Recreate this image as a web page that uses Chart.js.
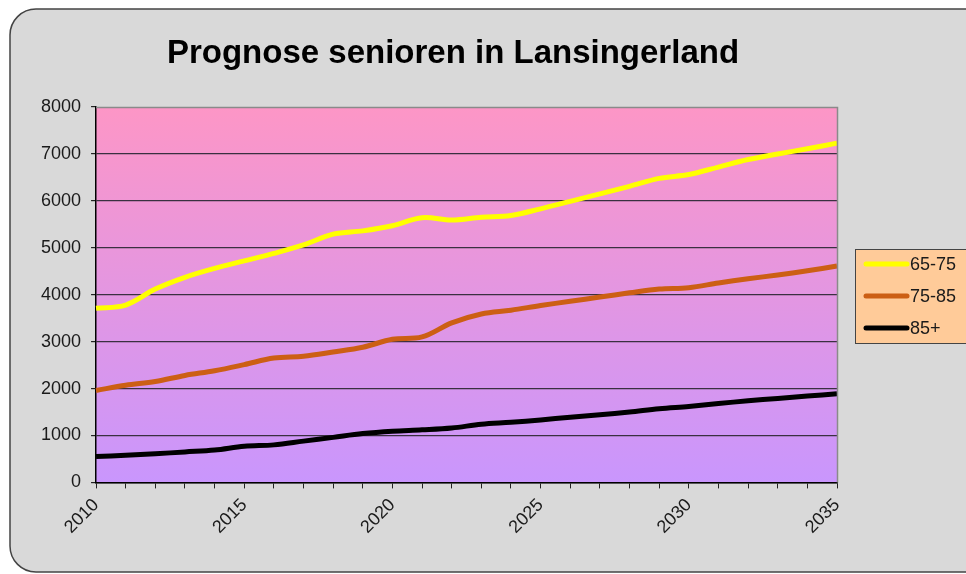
<!DOCTYPE html>
<html>
<head>
<meta charset="utf-8">
<script src="https://cdn.jsdelivr.net/npm/chart.js@4/dist/chart.umd.min.js"></script>
<style>
  html, body { margin: 0; padding: 0; background: #fff; }
  #wrap { width: 966px; height: 574px; }
</style>
</head>
<body>
<div id="wrap"><canvas id="myChart" width="966" height="574"></canvas></div>
<script>
const years = [2010, 2011, 2012, 2013, 2014, 2015, 2016, 2017, 2018, 2019, 2020, 2021, 2022,
  2023, 2024, 2025, 2026, 2027, 2028, 2029, 2030, 2031, 2032, 2033, 2034, 2035];

const age65to75 = [3710, 3780, 4120, 4370, 4560, 4720, 4880, 5060, 5290, 5360, 5470, 5640, 5590,
  5650, 5690, 5830, 5990, 6150, 6310, 6480, 6560, 6720, 6880, 7000, 7110, 7230];
const age75to85 = [1960, 2070, 2150, 2280, 2380, 2510, 2650, 2690, 2780, 2880, 3050, 3100, 3400,
  3590, 3670, 3770, 3860, 3950, 4040, 4120, 4150, 4250, 4340, 4420, 4510, 4610];
const age85plus = [550, 580, 610, 650, 690, 770, 800, 880, 960, 1040, 1090, 1120, 1160,
  1240, 1280, 1330, 1390, 1440, 1500, 1570, 1620, 1680, 1740, 1790, 1840, 1890];

const seriesNames = ['65-75', '75-85', '85+'];
const seriesColors = ['#ffff00', '#cc5f14', '#000000'];
const yTicks = [0, 1000, 2000, 3000, 4000, 5000, 6000, 7000, 8000];
const titleText = 'Prognose senioren in Lansingerland';

const FONT = "'Liberation Sans', Arial, sans-serif";

// frame, title + gradient plot background
const backdrop = {
  id: 'backdrop',
  beforeDraw(chart) {
    const c = chart.ctx;
    const a = chart.chartArea;
    c.save();
    c.beginPath();
    c.roundRect(10, 9, 980, 563, 26);
    c.fillStyle = '#d9d9d9';
    c.fill();
    c.lineWidth = 1.5;
    c.strokeStyle = '#444';
    c.stroke();

    c.fillStyle = '#000';
    c.font = 'bold 33px ' + FONT;
    c.textAlign = 'center';
    c.textBaseline = 'alphabetic';
    c.fillText(titleText, 453, 63);

    const g = c.createLinearGradient(0, a.top, 0, a.bottom);
    g.addColorStop(0, '#fd96c6');
    g.addColorStop(1, '#c996fd');
    c.fillStyle = g;
    c.fillRect(a.left, a.top, a.right - a.left, a.bottom - a.top);
    c.restore();
  },
  afterDatasetsDraw(chart) {
    const c = chart.ctx;
    const a = chart.chartArea;
    c.save();
    c.strokeStyle = '#8a8a8a';
    c.lineWidth = 1.5;
    c.beginPath();
    c.moveTo(a.left, a.top + 0.5);
    c.lineTo(a.right + 0.5, a.top + 0.5);
    c.lineTo(a.right + 0.5, a.bottom);
    c.stroke();
    c.restore();
  }
};

// legend box on the right, built from the datasets
const sideLegend = {
  id: 'sideLegend',
  afterDraw(chart) {
    const c = chart.ctx;
    const x = 855, y = 249, w = 120, h = 94;
    c.save();
    c.fillStyle = '#ffcb99';
    c.fillRect(x, y, w, h);
    c.strokeStyle = '#444';
    c.lineWidth = 1;
    c.strokeRect(x + 0.5, y + 0.5, w, h);
    c.font = '18px ' + FONT;
    c.textBaseline = 'middle';
    c.lineCap = 'round';
    chart.data.datasets.forEach((ds, i) => {
      const ly = 264 + i * 32;
      c.strokeStyle = ds.borderColor;
      c.lineWidth = 5;
      c.beginPath();
      c.moveTo(866, ly);
      c.lineTo(907, ly);
      c.stroke();
      c.fillStyle = '#1a1a1a';
      c.fillText(ds.label, 910, ly + 1);
    });
    c.restore();
  }
};

const ctx = document.getElementById('myChart');

const datasets = [age65to75, age75to85, age85plus].map((data, i) => ({
  label: seriesNames[i],
  data,
  borderColor: seriesColors[i],
  backgroundColor: seriesColors[i],
  borderWidth: 5,
  pointRadius: 0,
  tension: 0.35,
  fill: false
}));

const chart = new Chart(ctx, {
  type: 'line',
  data: { labels: years, datasets },
  plugins: [backdrop, sideLegend],
  options: {
    responsive: false,
    animation: false,
    layout: { padding: { left: 31, right: 129, top: 107, bottom: 30 } },
    plugins: {
      legend: { display: false },
      tooltip: { enabled: false },
      title: { display: false }
    },
    scales: {
      x: {
        ticks: {
          autoSkip: false,
          maxRotation: 45,
          minRotation: 45,
          padding: 6,
          color: '#1a1a1a',
          font: { family: FONT, size: 18 },
          callback(value) {
            const yr = years[value];
            return yr % 5 === 0 ? String(yr) : '';
          }
        },
        grid: { drawOnChartArea: false, drawTicks: true, tickLength: 6, tickColor: '#222' },
        border: { display: true, color: '#000', width: 1.5 }
      },
      y: {
        min: 0,
        max: 8000,
        afterBuildTicks(axis) {
          axis.ticks = yTicks.map(v => ({ value: v }));
        },
        ticks: {
          padding: 10,
          color: '#1a1a1a',
          font: { family: FONT, size: 18 },
          callback: value => String(value)
        },
        grid: {
          color: c => c.tick && c.tick.value === 8000 ? 'rgba(0,0,0,0)' : '#3a3040',
          lineWidth: 1.2,
          tickLength: 5,
          tickColor: '#222'
        },
        border: { display: true, color: '#000', width: 1.5 }
      }
    }
  }
});
</script>
</body>
</html>
